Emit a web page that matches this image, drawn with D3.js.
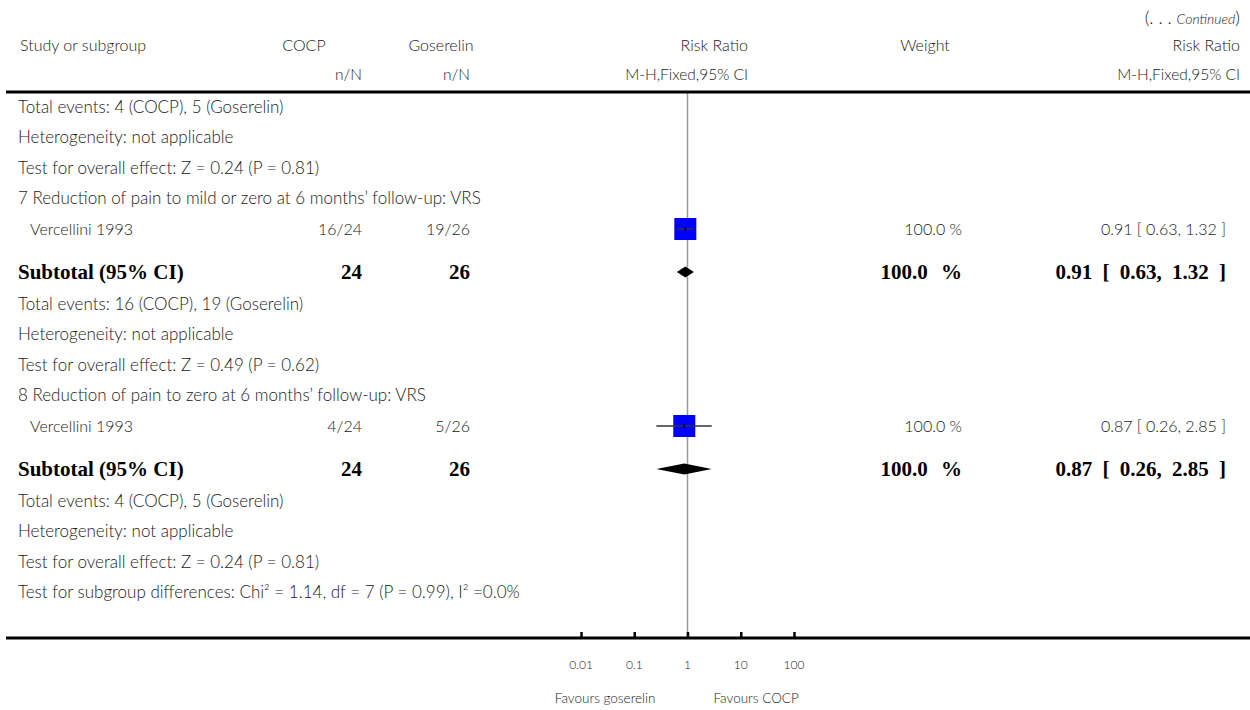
<!DOCTYPE html>
<html>
<head>
<meta charset="utf-8">
<script src="https://cdn.jsdelivr.net/npm/d3@7/dist/d3.min.js"></script>
<style>
  html, body { margin: 0; padding: 0; background: #fff; }
  svg text { font-family: "Lato", "Open Sans", sans-serif; font-weight: 300; fill: #1a1a1a; }
  svg text.bold { font-family: "Liberation Serif", "DejaVu Serif", serif; font-weight: bold; fill: #000; }
</style>
</head>
<body>
<svg id="chart" width="1250" height="710"></svg>
<script>
// ---- data ----
const studyNames   = ["Vercellini 1993", "Vercellini 1993"];
const cocpCells    = ["16/24", "4/24"];
const goserCells   = ["19/26", "5/26"];
const studyRR      = [0.91, 0.87];
const studyLo      = [0.63, 0.26];
const studyHi      = [1.32, 2.85];
const studyWeight  = [100.0, 100.0];

const groupTitles  = ["7 Reduction of pain to mild or zero at 6 months\u2019 follow-up: VRS",
                      "8 Reduction of pain to zero at 6 months\u2019 follow-up: VRS"];
const subCocpN     = [24, 24];
const subGoserN    = [26, 26];
const subRR        = [0.91, 0.87];
const subLo        = [0.63, 0.26];
const subHi        = [1.32, 2.85];
const subWeight    = [100.0, 100.0];

const leadNotes    = ["Total events: 4 (COCP), 5 (Goserelin)",
                      "Heterogeneity: not applicable",
                      "Test for overall effect: Z = 0.24 (P = 0.81)"];
const subNotes     = [["Total events: 16 (COCP), 19 (Goserelin)",
                       "Heterogeneity: not applicable",
                       "Test for overall effect: Z = 0.49 (P = 0.62)"],
                      ["Total events: 4 (COCP), 5 (Goserelin)",
                       "Heterogeneity: not applicable",
                       "Test for overall effect: Z = 0.24 (P = 0.81)"]];
const footNote     = "Test for subgroup differences: Chi\u00b2 = 1.14, df = 7 (P = 0.99), I\u00b2 =0.0%";

const axisTicks    = [0.01, 0.1, 1, 10, 100];
const axisLabels   = ["0.01", "0.1", "1", "10", "100"];
const favourLeft   = "Favours goserelin";
const favourRight  = "Favours COCP";

// ---- layout ----
const W = 1250;
const colLeft = 18, colIndent = 30, colCocp = 362, colGoser = 470;
const colRRHead = 748, colWeight = 962, colCI = 1226, colRight = 1240;
const headerRuleY = 92, axisY = 638;
const step = 30.5, subGap = 43, afterSub = 32;

const fmtCI = (r, l, h) => `${r.toFixed(2)} [ ${l.toFixed(2)}, ${h.toFixed(2)} ]`;
const fmtW = w => `${w.toFixed(1)} %`;

// build the row list
const rows = [];
leadNotes.forEach(t => rows.push({kind: "note", text: t}));
groupTitles.forEach((g, i) => {
  rows.push({kind: "note", text: g});
  rows.push({kind: "study", i});
  rows.push({kind: "sub", i});
  subNotes[i].forEach(t => rows.push({kind: "note", text: t}));
});
rows.push({kind: "note", text: footNote});

let y = 107;
rows.forEach((r, k) => {
  if (k > 0) {
    const prev = rows[k - 1];
    y += r.kind === "sub" ? subGap : (prev.kind === "sub" ? afterSub : step);
  }
  r.y = y;
});

const svg = d3.select("#chart");
const x = d3.scaleLog().domain([0.01, 100]).range([581, 794]);

// header
const head = svg.append("g").style("font-size", "16px");
head.append("text").attr("x", colRight).attr("y", 18).attr("dy", "0.35em").attr("text-anchor", "end")
  .html('<tspan style="font-size:18px">(. . . </tspan><tspan font-style="italic" style="font-size:14px">Continued</tspan><tspan style="font-size:18px">)</tspan>');
const h1 = 45, h2 = 75;
[["Study or subgroup", 20, "start"], ["COCP", 304, "middle"], ["Goserelin", 441, "middle"],
 ["Risk Ratio", colRRHead, "end"], ["Weight", 925, "middle"], ["Risk Ratio", colRight, "end"]]
  .forEach(([t, xx, a]) => head.append("text").attr("x", xx).attr("y", h1).attr("dy", "0.35em").attr("text-anchor", a).text(t));
[["n/N", colCocp], ["n/N", colGoser], ["M-H,Fixed,95% CI", colRRHead], ["M-H,Fixed,95% CI", colRight]]
  .forEach(([t, xx]) => head.append("text").attr("x", xx).attr("y", h2).attr("dy", "0.35em").attr("text-anchor", "end")
    .style("font-size", "15.5px").text(t));

// reference line at RR = 1
svg.append("line").attr("x1", x(1)).attr("x2", x(1)).attr("y1", headerRuleY).attr("y2", axisY)
  .attr("stroke", "#9a9a9a").attr("stroke-width", 1.5);

// header rule
svg.append("line").attr("x1", 6).attr("x2", W).attr("y1", headerRuleY).attr("y2", headerRuleY)
  .attr("stroke", "#000").attr("stroke-width", 3);

// rows
const body = svg.append("g").style("font-size", "16px");
rows.forEach(r => {
  if (r.kind === "note") {
    body.append("text").attr("x", colLeft).attr("y", r.y).attr("dy", "0.35em").style("font-size", "17px").text(r.text);
  } else if (r.kind === "study") {
    const i = r.i;
    body.append("text").attr("x", colIndent).attr("y", r.y).attr("dy", "0.35em").text(studyNames[i]);
    body.append("text").attr("x", colCocp).attr("y", r.y).attr("dy", "0.35em").attr("text-anchor", "end").text(cocpCells[i]);
    body.append("text").attr("x", colGoser).attr("y", r.y).attr("dy", "0.35em").attr("text-anchor", "end").text(goserCells[i]);
    body.append("text").attr("x", colWeight).attr("y", r.y).attr("dy", "0.35em").attr("text-anchor", "end").text(fmtW(studyWeight[i]));
    body.append("text").attr("x", colCI).attr("y", r.y).attr("dy", "0.35em").attr("text-anchor", "end").text(fmtCI(studyRR[i], studyLo[i], studyHi[i]));
    // weight box, side scaled by study weight
    const side = 22 * Math.sqrt(studyWeight[i] / 100);
    body.append("rect").attr("x", x(studyRR[i]) - side / 2).attr("y", r.y - side / 2)
      .attr("width", side).attr("height", side).attr("fill", "#0000ff");
    body.append("line").attr("x1", x(studyLo[i])).attr("x2", x(studyHi[i])).attr("y1", r.y).attr("y2", r.y)
      .attr("stroke", "#333").attr("stroke-width", 1.3);
    body.append("line").attr("x1", x(studyRR[i])).attr("x2", x(studyRR[i])).attr("y1", r.y - 2).attr("y2", r.y + 2)
      .attr("stroke", "#000").attr("stroke-width", 1.2);
  } else if (r.kind === "sub") {
    const i = r.i;
    const b = svg.append("g").style("font-size", "21px");
    b.append("text").attr("class", "bold").attr("x", colLeft).attr("y", r.y).attr("dy", "0.35em").text("Subtotal (95% CI)");
    b.append("text").attr("class", "bold").attr("x", colCocp).attr("y", r.y).attr("dy", "0.35em").attr("text-anchor", "end").text(subCocpN[i]);
    b.append("text").attr("class", "bold").attr("x", colGoser).attr("y", r.y).attr("dy", "0.35em").attr("text-anchor", "end").text(subGoserN[i]);
    b.append("text").attr("class", "bold").attr("x", colWeight).attr("y", r.y).attr("dy", "0.35em").attr("text-anchor", "end")
      .style("word-spacing", "8px").text(fmtW(subWeight[i]));
    b.append("text").attr("class", "bold").attr("x", colCI).attr("y", r.y).attr("dy", "0.35em").attr("text-anchor", "end")
      .style("word-spacing", "5px").text(fmtCI(subRR[i], subLo[i], subHi[i]));
    const xl = x(subLo[i]), xm = x(subRR[i]), xh = x(subHi[i]);
    b.append("path").attr("d", `M${xl},${r.y}L${xm},${r.y - 5.5}L${xh},${r.y}L${xm},${r.y + 5.5}Z`).attr("fill", "#000");
  }
});

// axis
const axisG = svg.append("g").attr("transform", `translate(0,${axisY})`);
axisG.append("line").attr("x1", 6).attr("x2", W).attr("y1", 0).attr("y2", 0).attr("stroke", "#000").attr("stroke-width", 3);
const ax = d3.axisTop(x).tickValues(axisTicks).tickSize(6).tickFormat("");
const axG = axisG.append("g").call(ax);
axG.select(".domain").remove();
axG.selectAll(".tick line").attr("stroke", "#000").attr("stroke-width", 2.5);
axisG.selectAll("text.tl").data(axisTicks).join("text").attr("class", "tl")
  .attr("x", d => x(d)).attr("y", 27).attr("dy", "0.35em").attr("text-anchor", "middle")
  .style("font-size", "12px").text((d, i) => axisLabels[i]);
axisG.append("text").attr("x", x(1) - 32).attr("y", 60).attr("dy", "0.35em").attr("text-anchor", "end")
  .style("font-size", "13.5px").text(favourLeft);
axisG.append("text").attr("x", x(1) + 26).attr("y", 60).attr("dy", "0.35em").attr("text-anchor", "start")
  .style("font-size", "13.5px").text(favourRight);
</script>
</body>
</html>
